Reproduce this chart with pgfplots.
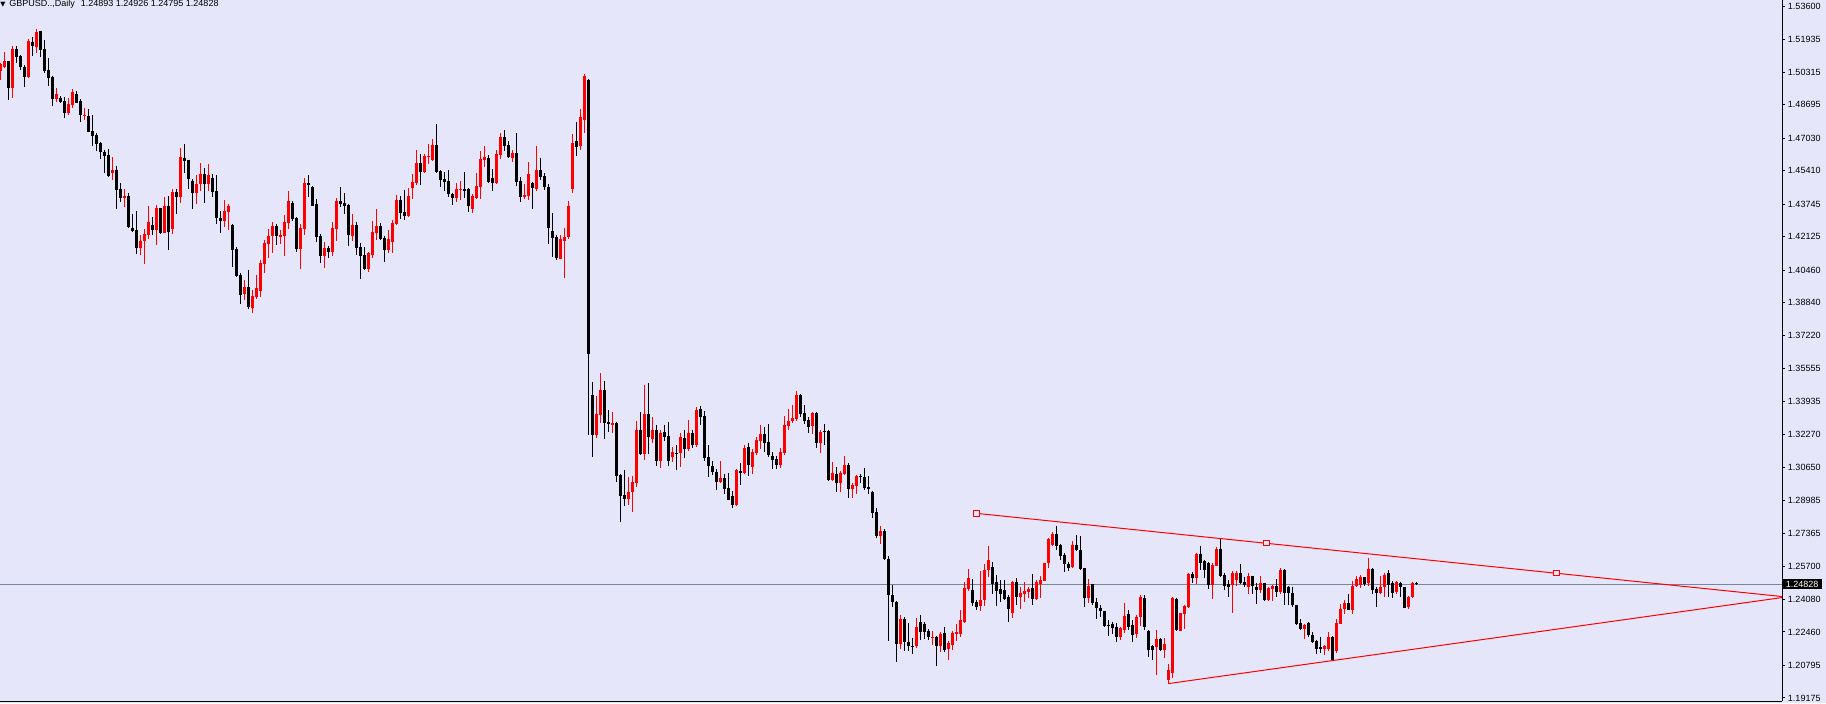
\documentclass[border=0pt]{standalone}
\usepackage{pgfplots}
\pgfplotsset{compat=1.18}
\usepackage{pgfplotstable}
\usepackage{fontspec}
\setmainfont{Liberation Sans}
\definecolor{bg}{RGB}{230,230,250}
\definecolor{pline}{RGB}{119,136,153}
\pgfplotstableread{
i o h l c
0 1.5038 1.5078 1.4992 1.5070
1 1.5057 1.5131 1.5053 1.5086
2 1.5086 1.5088 1.4892 1.4954
3 1.4954 1.5161 1.4902 1.5146
4 1.5146 1.5161 1.5078 1.5108
5 1.5111 1.5118 1.5043 1.5058
6 1.5057 1.5067 1.4959 1.5009
7 1.5007 1.5194 1.5004 1.5186
8 1.5181 1.5206 1.5111 1.5161
9 1.5158 1.5246 1.5126 1.5229
10 1.5236 1.5238 1.5108 1.5143
11 1.5146 1.5191 1.5028 1.5037
12 1.5040 1.5101 1.4964 1.5004
13 1.5007 1.5012 1.4864 1.4899
14 1.4897 1.4952 1.4883 1.4922
15 1.4902 1.4912 1.4879 1.4884
16 1.4887 1.4909 1.4805 1.4829
17 1.4828 1.4902 1.4818 1.4872
18 1.4869 1.4946 1.4854 1.4932
19 1.4922 1.4937 1.4876 1.4878
20 1.4887 1.4896 1.4785 1.4819
21 1.4815 1.4853 1.4793 1.4819
22 1.4813 1.4848 1.4733 1.4735
23 1.4738 1.4818 1.4665 1.4715
24 1.4718 1.4730 1.4640 1.4675
25 1.4679 1.4684 1.4601 1.4632
26 1.4634 1.4644 1.4531 1.4616
27 1.4619 1.4650 1.4509 1.4516
28 1.4529 1.4609 1.4496 1.4544
29 1.4544 1.4566 1.4352 1.4446
30 1.4450 1.4480 1.4387 1.4407
31 1.4407 1.4450 1.4362 1.4415
32 1.4415 1.4431 1.4256 1.4261
33 1.4256 1.4325 1.4237 1.4241
34 1.4246 1.4340 1.4128 1.4156
35 1.4156 1.4221 1.4121 1.4191
36 1.4193 1.4251 1.4078 1.4226
37 1.4223 1.4365 1.4203 1.4286
38 1.4271 1.4310 1.4223 1.4246
39 1.4246 1.4370 1.4173 1.4355
40 1.4355 1.4357 1.4227 1.4229
41 1.4232 1.4410 1.4231 1.4365
42 1.4365 1.4415 1.4148 1.4237
43 1.4251 1.4450 1.4228 1.4435
44 1.4435 1.4450 1.4325 1.4410
45 1.4410 1.4654 1.4382 1.4609
46 1.4606 1.4674 1.4531 1.4591
47 1.4594 1.4596 1.4451 1.4499
48 1.4490 1.4500 1.4350 1.4430
49 1.4430 1.4519 1.4377 1.4475
50 1.4475 1.4579 1.4441 1.4524
51 1.4524 1.4554 1.4382 1.4476
52 1.4476 1.4574 1.4440 1.4519
53 1.4504 1.4523 1.4412 1.4435
54 1.4440 1.4519 1.4277 1.4305
55 1.4305 1.4340 1.4231 1.4290
56 1.4290 1.4395 1.4262 1.4340
57 1.4335 1.4377 1.4246 1.4365
58 1.4271 1.4276 1.4060 1.4146
59 1.4151 1.4161 1.4010 1.4019
60 1.4022 1.4032 1.3879 1.3924
61 1.3929 1.3997 1.3899 1.3962
62 1.3962 1.4047 1.3854 1.3864
63 1.3859 1.3947 1.3834 1.3919
64 1.3914 1.4022 1.3904 1.3957
65 1.3944 1.4096 1.3914 1.4082
66 1.4078 1.4196 1.4033 1.4181
67 1.4176 1.4251 1.4108 1.4216
68 1.4216 1.4286 1.4133 1.4266
69 1.4266 1.4276 1.4173 1.4216
70 1.4213 1.4246 1.4178 1.4221
71 1.4216 1.4320 1.4118 1.4286
72 1.4282 1.4440 1.4251 1.4390
73 1.4380 1.4390 1.4292 1.4302
74 1.4305 1.4310 1.4136 1.4151
75 1.4151 1.4277 1.4052 1.4256
76 1.4251 1.4504 1.4221 1.4480
77 1.4480 1.4519 1.4410 1.4470
78 1.4460 1.4465 1.4364 1.4365
79 1.4375 1.4400 1.4186 1.4211
80 1.4216 1.4226 1.4082 1.4116
81 1.4116 1.4186 1.4057 1.4156
82 1.4156 1.4166 1.4106 1.4136
83 1.4136 1.4286 1.4116 1.4256
84 1.4251 1.4405 1.4191 1.4390
85 1.4390 1.4460 1.4360 1.4375
86 1.4380 1.4430 1.4325 1.4365
87 1.4370 1.4375 1.4166 1.4221
88 1.4216 1.4325 1.4191 1.4271
89 1.4271 1.4286 1.4121 1.4156
90 1.4161 1.4181 1.4002 1.4116
91 1.4121 1.4161 1.4047 1.4052
92 1.4052 1.4136 1.4037 1.4131
93 1.4121 1.4290 1.4106 1.4236
94 1.4231 1.4350 1.4196 1.4266
95 1.4266 1.4281 1.4196 1.4201
96 1.4206 1.4216 1.4087 1.4146
97 1.4146 1.4246 1.4131 1.4201
98 1.4186 1.4295 1.4131 1.4281
99 1.4276 1.4420 1.4271 1.4395
100 1.4395 1.4415 1.4300 1.4330
101 1.4335 1.4445 1.4295 1.4315
102 1.4315 1.4455 1.4310 1.4415
103 1.4455 1.4524 1.4400 1.4485
104 1.4480 1.4644 1.4470 1.4579
105 1.4579 1.4624 1.4470 1.4534
106 1.4534 1.4624 1.4529 1.4614
107 1.4609 1.4674 1.4574 1.4614
108 1.4594 1.4698 1.4589 1.4669
109 1.4669 1.4773 1.4529 1.4534
110 1.4539 1.4544 1.4460 1.4494
111 1.4499 1.4534 1.4440 1.4485
112 1.4490 1.4544 1.4410 1.4425
113 1.4425 1.4430 1.4370 1.4405
114 1.4405 1.4480 1.4385 1.4450
115 1.4445 1.4490 1.4395 1.4450
116 1.4450 1.4534 1.4405 1.4440
117 1.4450 1.4455 1.4335 1.4365
118 1.4352 1.4425 1.4332 1.4415
119 1.4405 1.4529 1.4402 1.4465
120 1.4460 1.4639 1.4400 1.4599
121 1.4594 1.4664 1.4559 1.4609
122 1.4604 1.4619 1.4480 1.4485
123 1.4504 1.4549 1.4440 1.4480
124 1.4480 1.4644 1.4475 1.4624
125 1.4619 1.4728 1.4599 1.4708
126 1.4708 1.4743 1.4639 1.4664
127 1.4669 1.4688 1.4604 1.4609
128 1.4604 1.4644 1.4584 1.4629
129 1.4629 1.4728 1.4465 1.4485
130 1.4490 1.4509 1.4385 1.4410
131 1.4410 1.4475 1.4400 1.4420
132 1.4415 1.4584 1.4395 1.4524
133 1.4480 1.4485 1.4350 1.4455
134 1.4450 1.4664 1.4440 1.4544
135 1.4544 1.4604 1.4494 1.4509
136 1.4514 1.4529 1.4445 1.4460
137 1.4460 1.4475 1.4176 1.4256
138 1.4241 1.4330 1.4111 1.4206
139 1.4211 1.4221 1.4096 1.4106
140 1.4103 1.4221 1.4101 1.4201
141 1.4191 1.4256 1.4007 1.4211
142 1.4211 1.4390 1.4201 1.4365
143 1.4450 1.4723 1.4430 1.4679
144 1.4688 1.4783 1.4614 1.4659
145 1.4664 1.4848 1.4644 1.4808
146 1.4793 1.5022 1.4728 1.5012
147 1.4992 1.4997 1.3226 1.3629
148 1.3425 1.3490 1.3116 1.3226
149 1.3226 1.3420 1.3211 1.3330
150 1.3325 1.3534 1.3286 1.3450
151 1.3450 1.3495 1.3206 1.3286
152 1.3290 1.3350 1.3241 1.3281
153 1.3276 1.3340 1.3236 1.3286
154 1.3286 1.3288 1.2992 1.3022
155 1.3027 1.3032 1.2793 1.2922
156 1.2927 1.3052 1.2873 1.2907
157 1.2907 1.3017 1.2878 1.2942
158 1.2942 1.3022 1.2843 1.2992
159 1.2987 1.3296 1.2967 1.3251
160 1.3251 1.3340 1.3126 1.3131
161 1.3131 1.3475 1.3101 1.3330
162 1.3330 1.3485 1.3131 1.3216
163 1.3206 1.3315 1.3186 1.3251
164 1.3251 1.3276 1.3071 1.3096
165 1.3096 1.3251 1.3062 1.3236
166 1.3241 1.3276 1.3196 1.3216
167 1.3221 1.3290 1.3071 1.3096
168 1.3116 1.3166 1.3091 1.3141
169 1.3136 1.3176 1.3052 1.3131
170 1.3136 1.3236 1.3067 1.3216
171 1.3211 1.3251 1.3111 1.3156
172 1.3156 1.3300 1.3146 1.3236
173 1.3236 1.3251 1.3161 1.3176
174 1.3176 1.3365 1.3166 1.3350
175 1.3355 1.3370 1.3276 1.3315
176 1.3320 1.3345 1.3096 1.3111
177 1.3116 1.3176 1.3017 1.3072
178 1.3072 1.3096 1.3027 1.3042
179 1.3042 1.3057 1.2952 1.2992
180 1.2992 1.3096 1.2987 1.3012
181 1.3012 1.3032 1.2932 1.2957
182 1.2962 1.3037 1.2900 1.2902
183 1.2922 1.2947 1.2863 1.2878
184 1.2878 1.3057 1.2872 1.3052
185 1.3047 1.3087 1.2977 1.3037
186 1.3037 1.3176 1.3032 1.3161
187 1.3166 1.3186 1.3022 1.3077
188 1.3067 1.3156 1.3032 1.3141
189 1.3136 1.3216 1.3126 1.3201
190 1.3196 1.3276 1.3156 1.3231
191 1.3231 1.3266 1.3141 1.3186
192 1.3191 1.3280 1.3116 1.3126
193 1.3121 1.3141 1.3057 1.3101
194 1.3106 1.3121 1.3057 1.3077
195 1.3077 1.3161 1.3062 1.3141
196 1.3136 1.3320 1.3126 1.3276
197 1.3271 1.3355 1.3251 1.3295
198 1.3295 1.3375 1.3286 1.3310
199 1.3306 1.3445 1.3295 1.3425
200 1.3425 1.3430 1.3315 1.3330
201 1.3335 1.3375 1.3280 1.3295
202 1.3300 1.3315 1.3236 1.3266
203 1.3271 1.3340 1.3231 1.3335
204 1.3335 1.3340 1.3161 1.3186
205 1.3186 1.3251 1.3136 1.3241
206 1.3246 1.3280 1.3176 1.3241
207 1.3246 1.3251 1.2997 1.3002
208 1.3002 1.3092 1.2999 1.3037
209 1.3032 1.3067 1.2942 1.2987
210 1.2987 1.3047 1.2942 1.3037
211 1.3032 1.3121 1.3027 1.3077
212 1.3077 1.3087 1.2912 1.2957
213 1.2957 1.2987 1.2912 1.2977
214 1.2972 1.3027 1.2932 1.3022
215 1.3022 1.3032 1.2987 1.3017
216 1.3017 1.3062 1.2952 1.2962
217 1.2967 1.3022 1.2932 1.2957
218 1.2942 1.2947 1.2813 1.2838
219 1.2843 1.2863 1.2715 1.2723
220 1.2723 1.2773 1.2685 1.2748
221 1.2748 1.2758 1.2604 1.2609
222 1.2609 1.2625 1.2200 1.2430
223 1.2430 1.2480 1.2370 1.2395
224 1.2395 1.2400 1.2095 1.2187
225 1.2187 1.2330 1.2160 1.2310
226 1.2310 1.2320 1.2150 1.2197
227 1.2197 1.2290 1.2150 1.2177
228 1.2177 1.2215 1.2135 1.2175
229 1.2175 1.2315 1.2165 1.2273
230 1.2297 1.2330 1.2206 1.2247
231 1.2286 1.2297 1.2209 1.2247
232 1.2252 1.2259 1.2206 1.2219
233 1.2219 1.2251 1.2181 1.2223
234 1.2223 1.2224 1.2078 1.2178
235 1.2178 1.2247 1.2148 1.2236
236 1.2241 1.2271 1.2148 1.2156
237 1.2161 1.2203 1.2106 1.2191
238 1.2181 1.2251 1.2156 1.2241
239 1.2236 1.2286 1.2201 1.2246
240 1.2236 1.2355 1.2219 1.2305
241 1.2296 1.2495 1.2291 1.2465
242 1.2461 1.2559 1.2450 1.2514
243 1.2455 1.2509 1.2375 1.2392
244 1.2395 1.2405 1.2355 1.2372
245 1.2375 1.2549 1.2352 1.2405
246 1.2405 1.2584 1.2375 1.2554
247 1.2554 1.2674 1.2519 1.2604
248 1.2569 1.2594 1.2435 1.2485
249 1.2495 1.2529 1.2375 1.2450
250 1.2460 1.2504 1.2395 1.2435
251 1.2455 1.2504 1.2405 1.2410
252 1.2420 1.2430 1.2296 1.2360
253 1.2340 1.2497 1.2315 1.2495
254 1.2495 1.2514 1.2380 1.2420
255 1.2420 1.2470 1.2360 1.2440
256 1.2435 1.2495 1.2395 1.2450
257 1.2445 1.2470 1.2415 1.2460
258 1.2465 1.2534 1.2380 1.2410
259 1.2410 1.2504 1.2405 1.2495
260 1.2485 1.2524 1.2415 1.2504
261 1.2499 1.2591 1.2497 1.2589
262 1.2589 1.2713 1.2564 1.2708
263 1.2679 1.2743 1.2674 1.2733
264 1.2733 1.2773 1.2654 1.2674
265 1.2679 1.2684 1.2604 1.2624
266 1.2629 1.2639 1.2544 1.2584
267 1.2584 1.2594 1.2549 1.2564
268 1.2569 1.2698 1.2564 1.2679
269 1.2679 1.2728 1.2649 1.2654
270 1.2654 1.2723 1.2554 1.2559
271 1.2564 1.2566 1.2370 1.2415
272 1.2415 1.2509 1.2390 1.2475
273 1.2484 1.2485 1.2380 1.2390
274 1.2395 1.2415 1.2310 1.2365
275 1.2365 1.2380 1.2320 1.2350
276 1.2350 1.2352 1.2271 1.2276
277 1.2281 1.2305 1.2226 1.2276
278 1.2286 1.2296 1.2236 1.2266
279 1.2271 1.2291 1.2196 1.2221
280 1.2221 1.2271 1.2206 1.2266
281 1.2256 1.2390 1.2241 1.2325
282 1.2335 1.2355 1.2256 1.2271
283 1.2281 1.2305 1.2196 1.2231
284 1.2236 1.2330 1.2216 1.2320
285 1.2320 1.2430 1.2276 1.2420
286 1.2415 1.2430 1.2256 1.2271
287 1.2251 1.2256 1.2121 1.2156
288 1.2176 1.2181 1.2106 1.2156
289 1.2171 1.2256 1.2032 1.2211
290 1.2211 1.2216 1.2151 1.2156
291 1.2156 1.2214 1.2118 1.2186
292 1.2007 1.2087 1.1987 1.2057
293 1.2040 1.2421 1.2015 1.2416
294 1.2412 1.2417 1.2252 1.2256
295 1.2252 1.2342 1.2250 1.2340
296 1.2335 1.2382 1.2259 1.2375
297 1.2368 1.2541 1.2365 1.2536
298 1.2536 1.2544 1.2488 1.2516
299 1.2516 1.2639 1.2485 1.2634
300 1.2634 1.2675 1.2556 1.2591
301 1.2599 1.2604 1.2514 1.2554
302 1.2589 1.2594 1.2461 1.2481
303 1.2481 1.2591 1.2412 1.2579
304 1.2576 1.2670 1.2574 1.2659
305 1.2659 1.2708 1.2521 1.2524
306 1.2528 1.2537 1.2455 1.2475
307 1.2484 1.2504 1.2421 1.2468
308 1.2481 1.2549 1.2342 1.2537
309 1.2504 1.2551 1.2475 1.2541
310 1.2541 1.2586 1.2486 1.2491
311 1.2494 1.2521 1.2471 1.2481
312 1.2471 1.2541 1.2435 1.2524
313 1.2524 1.2526 1.2435 1.2475
314 1.2471 1.2488 1.2383 1.2455
315 1.2455 1.2526 1.2438 1.2488
316 1.2488 1.2491 1.2402 1.2405
317 1.2405 1.2468 1.2398 1.2465
318 1.2458 1.2481 1.2398 1.2475
319 1.2475 1.2508 1.2421 1.2446
320 1.2446 1.2566 1.2435 1.2556
321 1.2556 1.2558 1.2380 1.2438
322 1.2471 1.2474 1.2382 1.2438
323 1.2438 1.2471 1.2372 1.2378
324 1.2378 1.2381 1.2279 1.2286
325 1.2289 1.2309 1.2256 1.2262
326 1.2262 1.2285 1.2213 1.2282
327 1.2292 1.2295 1.2222 1.2232
328 1.2232 1.2247 1.2193 1.2198
329 1.2201 1.2206 1.2136 1.2161
330 1.2173 1.2219 1.2139 1.2161
331 1.2159 1.2179 1.2133 1.2176
332 1.2159 1.2247 1.2153 1.2222
333 1.2222 1.2224 1.2104 1.2106
334 1.2153 1.2312 1.2140 1.2289
335 1.2286 1.2385 1.2284 1.2362
336 1.2358 1.2405 1.2335 1.2392
337 1.2392 1.2435 1.2353 1.2355
338 1.2355 1.2501 1.2334 1.2475
339 1.2475 1.2524 1.2471 1.2508
340 1.2478 1.2528 1.2463 1.2521
341 1.2518 1.2519 1.2474 1.2484
342 1.2488 1.2614 1.2474 1.2561
343 1.2561 1.2564 1.2435 1.2455
344 1.2461 1.2471 1.2372 1.2438
345 1.2438 1.2524 1.2435 1.2471
346 1.2468 1.2541 1.2421 1.2531
347 1.2538 1.2554 1.2421 1.2478
348 1.2488 1.2501 1.2416 1.2441
349 1.2443 1.2501 1.2435 1.2493
350 1.2491 1.2496 1.2421 1.2468
351 1.2468 1.2471 1.2363 1.2367
352 1.2368 1.2425 1.2360 1.2421
353 1.2418 1.2496 1.2415 1.2491
354 1.24893 1.24926 1.24795 1.24828
}\candles
\pgfplotstablecreatecol[expr={\thisrow{h}-\thisrow{l}}]{wl}\candles
\pgfplotstablecreatecol[expr={max(abs(\thisrow{c}-\thisrow{o}),0.0005)}]{bl}\candles
\pgfplotstablecreatecol[expr={max(\thisrow{o},\thisrow{c})}]{bt}\candles
\begin{document}
\begin{tikzpicture}
\fill[bg] (0,0) rectangle (1369.5pt,527.25pt);
\begin{axis}[
  at={(0pt,1.5pt)}, anchor=south west,
  width=1336.5pt, height=525.75pt, scale only axis,
  xmin=-0.083, xmax=445.42, ymin=1.19024, ymax=1.53899,
  axis x line=bottom, axis y line=right,
  axis line style={-, black, line width=0.75pt},
  xtick=\empty,
  ytick={1.53600,1.51935,1.50315,1.48695,1.47030,1.45410,1.43745,1.42125,1.40460,1.38840,1.37220,1.35555,1.33935,1.32270,1.30650,1.28985,1.27365,1.25700,1.24080,1.22460,1.20795,1.19175},
  yticklabels={1.53600,1.51935,1.50315,1.48695,1.47030,1.45410,1.43745,1.42125,1.40460,1.38840,1.37220,1.35555,1.33935,1.32270,1.30650,1.28985,1.27365,1.25700,1.24080,1.22460,1.20795,1.19175},
  tick align=outside, major tick length=2.25pt,
  tick style={black, line width=0.75pt},
  yticklabel style={font=\fontsize{6.75}{8}\selectfont, text=black, inner xsep=2pt},
  clip mode=individual,
  candle/.style={draw=none, mark=none, forget plot, restrict y to domain=0:5,
    error bars/y dir=minus, error bars/y explicit, error bars/error mark=none},
]
% bid price line
\addplot[pline, line width=0.75pt, forget plot] coordinates {(-1,1.24828) (450,1.24828)};
% wicks
\addplot[candle, error bars/error bar style={draw=red, line width=0.75pt}]
  table[x=i, y expr={\thisrow{c}>=\thisrow{o} ? \thisrow{h} : -1}, y error minus=wl] {\candles};
\addplot[candle, error bars/error bar style={draw=black, line width=0.75pt}]
  table[x=i, y expr={\thisrow{c}<\thisrow{o} ? \thisrow{h} : -1}, y error minus=wl] {\candles};
% bodies
\addplot[candle, error bars/error bar style={draw=red, line width=2.25pt}]
  table[x=i, y expr={\thisrow{c}>=\thisrow{o} ? \thisrow{bt} : -1}, y error minus=bl] {\candles};
\addplot[candle, error bars/error bar style={draw=black, line width=2.25pt}]
  table[x=i, y expr={\thisrow{c}<\thisrow{o} ? \thisrow{bt} : -1}, y error minus=bl] {\candles};
% trend lines
\addplot[red, line width=0.75pt, mark=none] coordinates {(244,1.2836) (460,1.23921)};
\addplot[red, line width=0.75pt, mark=none] coordinates {(292,1.1989) (460,1.24577)};
\addplot[only marks, mark=square*, mark size=2pt, mark options={draw=red, fill=bg, line width=0.75pt}] coordinates {(244,1.2836) (316.5,1.2687) (389,1.2538)};
% price label
\node[anchor=west, fill=black, text=white, inner xsep=2.6pt, inner ysep=1.4pt, font=\fontsize{6.75}{8}\selectfont] at (axis cs:445.42,1.24828) {1.24828};
% header
\node[anchor=north west, inner sep=0pt, font=\fontsize{6.75}{8}\selectfont] at (rel axis cs:0,1) {{\fontspec{DejaVu Sans}\fontsize{5}{6}\selectfont ▼}\hspace{3pt}GBPUSD..,Daily\hspace{4.5pt}1.24893 1.24926 1.24795 1.24828};
\end{axis}
\pgfresetboundingbox
\useasboundingbox (0,0) rectangle (1369.5pt,527.25pt);
\end{tikzpicture}
\end{document}
